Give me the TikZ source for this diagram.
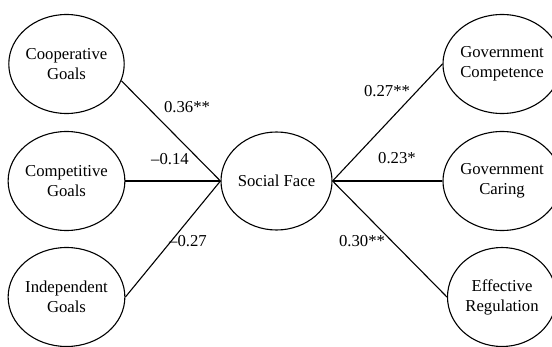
\documentclass[tikz,border=0pt]{standalone}
\usepackage{fontspec}
\setmainfont{Liberation Serif}
\usepackage{tikz}
\usetikzlibrary{shapes.geometric}

\begin{document}
\begin{tikzpicture}[x=1pt,y=1pt,
  factor/.style={ellipse,draw,line width=1.1pt,minimum width=109pt,minimum height=99pt,
    inner sep=0pt,align=center,font=\fontsize{16.7}{20}\selectfont},
  path/.style={line width=1.1pt},
  coef/.style={font=\fontsize{16.7}{20}\selectfont,inner sep=1pt}]
\useasboundingbox (0,0) rectangle (552,346);
\node [factor] (coop) at (66.5,282) {Cooperative\\Goals};
\node [factor] (comp) at (66.5,165) {Competitive\\Goals};
\node [factor] (indep) at (66.5,49) {Independent\\Goals};
\node [factor,minimum width=111pt,minimum height=98pt] (face) at (276.5,165) {Social Face};
\node [factor] (compet) at (502,282) {Government\\Competence};
\node [factor] (caring) at (502,165) {Government\\Caring};
\node [factor] (regul) at (502,49) {Effective\\Regulation};
% paths
\draw [path] (coop.-17) -- (face.west);
\draw [path] (comp.east) -- (face.west);
\draw [path] (indep.east) -- (face.west);
\draw [path] (face.east) -- (compet.west);
\draw [path] (face.east) -- (caring.west);
\draw [path] (face.east) -- (regul.west);
% coefficients
\node [coef] (c1) at (187,239) {0.36**};
\node [coef] (c2) at (170,187) {\textendash0.14};
\node [coef] (c3) at (188,105) {\textendash0.27};
\node [coef] (c4) at (387,255) {0.27**};
\node [coef] (c5) at (397,188) {0.23*};
\node [coef] (c6) at (362,105) {0.30**};
\end{tikzpicture}
\end{document}
